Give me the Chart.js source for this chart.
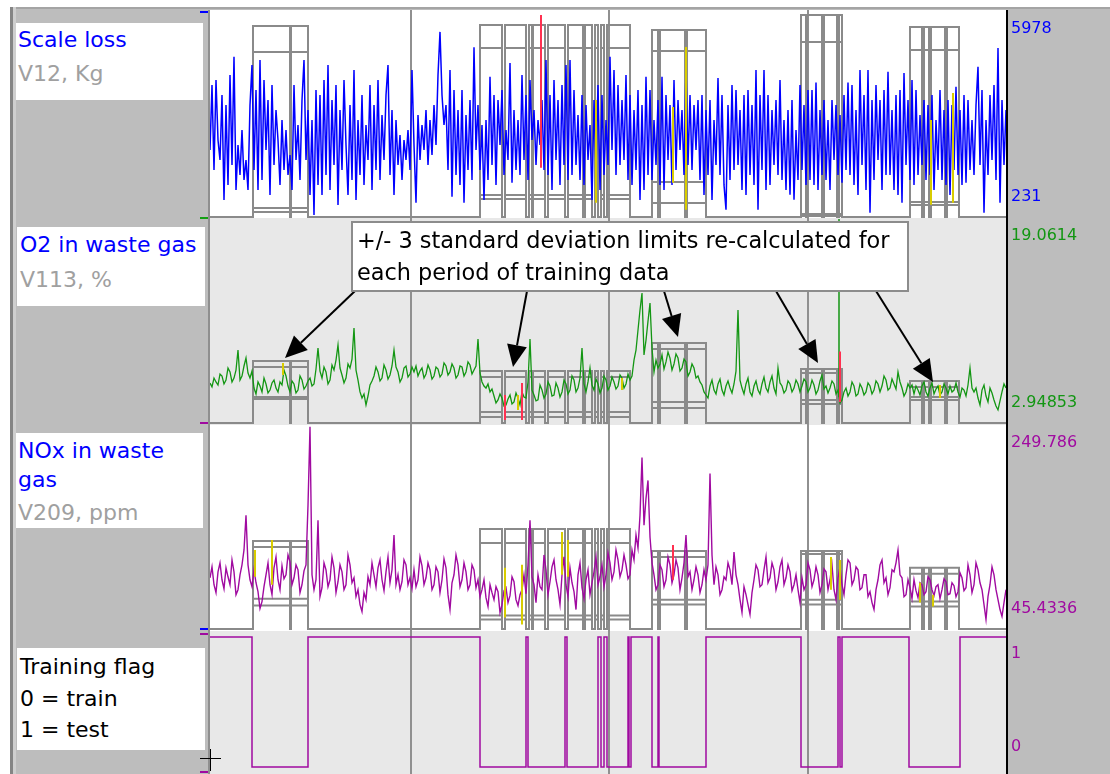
<!DOCTYPE html>
<html>
<head>
<meta charset="utf-8">
<script src="https://cdn.jsdelivr.net/npm/chart.js@4.4.1/dist/chart.umd.min.js"></script>
<style>
  html, body { margin: 0; padding: 0; background: #fff; }
  #page { position: relative; width: 1110px; height: 774px; overflow: hidden; font-family: "DejaVu Sans", sans-serif; }
  #frame { position: absolute; left: 10px; top: 7px; width: 1100px; height: 767px; background: #bdbdbd; border-top: 2px solid #a4a4a4; box-sizing: border-box; }
  .edge { position: absolute; top: 7px; width: 3px; height: 767px; }
  .tag { position: absolute; background: #fff; }
  .txt { position: absolute; font-size: 22px; line-height: 32px; white-space: nowrap; }
  .blue { color: #0000ff; }
  .grey { color: #a0a0a0; }
  .black { color: #000; }
  .strip { position: absolute; left: 208px; width: 902px; }
  .strip canvas { display: block; }
  .mark { position: absolute; left: 200px; width: 8px; height: 2px; }
</style>
</head>
<body>
<div id="page">
  <div id="frame"></div>
  <div class="edge" style="left:10px;background:#858585"></div>
  <div class="edge" style="left:13px;background:#cfcfcf"></div>

  <div class="tag" style="left:16px;top:23px;width:187px;height:77px"></div>
  <div class="txt blue" style="left:18px;top:24px">Scale loss</div>
  <div class="txt grey" style="left:18px;top:58px">V12, Kg</div>

  <div class="tag" style="left:17px;top:227px;width:188px;height:79px"></div>
  <div class="txt blue" style="left:20px;top:229px">O2 in waste gas</div>
  <div class="txt grey" style="left:20px;top:264px">V113, %</div>

  <div class="tag" style="left:16px;top:433px;width:187px;height:95px"></div>
  <div class="txt blue" style="left:18px;top:435px">NOx in waste</div>
  <div class="txt blue" style="left:18px;top:464px">gas</div>
  <div class="txt grey" style="left:18px;top:497px">V209, ppm</div>

  <div class="tag" style="left:17px;top:648px;width:188px;height:102px"></div>
  <div class="txt black" style="left:20px;top:651px">Training flag</div>
  <div class="txt black" style="left:20px;top:683px">0 = train</div>
  <div class="txt black" style="left:20px;top:714px">1 = test</div>

  <div class="mark" style="top:11px;background:#0000ff"></div>
  <div class="mark" style="top:217px;background:#13a013"></div>
  <div class="mark" style="top:422px;background:#a00aa0"></div>
  <div class="mark" style="top:628px;background:#0000ff"></div>
  <div class="mark" style="top:633px;background:#a00aa0"></div>
  <div class="mark" style="top:771px;background:#a00aa0"></div>

  <div class="strip" style="top:10px"><canvas id="scaleChart" width="902" height="208"></canvas></div>
  <div class="strip" style="top:218px"><canvas id="o2Chart" width="902" height="207"></canvas></div>
  <div class="strip" style="top:425px"><canvas id="noxChart" width="902" height="206"></canvas></div>
  <div class="strip" style="top:631px"><canvas id="flagChart" width="902" height="143"></canvas></div>

  <div style="position:absolute;left:200px;top:758px;width:21px;height:1px;background:#000"></div>
  <div style="position:absolute;left:210px;top:749px;width:1px;height:22px;background:#000"></div>
</div>

<script>
(() => {
  "use strict";

  // time axis: one sample per plotted pixel column
  const SAMPLE_MAX = 796;
  const GRID_SAMPLES = [201, 399, 598];

  // every 2nd sample is plotted
  const SERIES_STEP = 2;

  // Scale loss, kg
  const SCALE_LOSS = [
    2110, 3930, 1550, 4070, 2390, 1830, 3650, 710, 3370, 1130, 4210, 1690, 4720, 990, 2250, 1410, 2670, 1270, 1830, 990,
    3370, 4490, 1550, 3790, 990, 4630, 1270, 4070, 2110, 3510, 850, 3930, 1690, 3230, 2390, 1130, 2950, 1550, 2670, 1410,
    1970, 990, 3930, 1830, 2810, 1270, 3510, 4630, 1830, 3230, 850, 2950, 290, 3790, 1130, 3650, 850, 4070, 1410, 4490,
    990, 3510, 1690, 3930, 570, 3230, 1550, 4070, 2250, 850, 3370, 1270, 4350, 710, 2950, 1410, 3650, 1130, 2810, 1830,
    3930, 990, 3370, 1550, 4070, 1270, 3090, 1830, 3650, 4490, 1410, 3230, 850, 2950, 1690, 2530, 1270, 2390, 1830, 2670,
    1550, 4350, 2250, 630, 3090, 1830, 2810, 2110, 3230, 1690, 2950, 1970, 3370, 2250, 4210, 5420, 3650, 2810, 3370, 1550,
    4350, 800, 3790, 1410, 3230, 1130, 3790, 630, 3090, 1550, 3510, 1270, 4990, 2110, 3370, 1550, 2810, 710, 2950, 1270,
    4160, 1690, 3650, 1130, 3510, 2250, 3790, 1410, 2670, 1830, 4550, 1190, 3230, 1550, 2950, 1410, 4210, 1830, 3650, 1270,
    4070, 2390, 3230, 1690, 2950, 2250, 3510, 1550, 4630, 1410, 3650, 990, 4070, 1830, 3510, 1130, 3930, 1690, 4490, 1270,
    4630, 1410, 3790, 1690, 3090, 1270, 3650, 1130, 3370, 1830, 2810, 710, 3510, 1550, 3930, 990, 3650, 1410, 2950, 1690,
    4720, 2110, 4350, 1410, 3930, 1690, 3510, 1830, 4210, 1270, 3650, 1130, 3230, 1550, 3790, 710, 3370, 990, 4160, 1410,
    3790, 1270, 2950, 1690, 3510, 1130, 4160, 990, 3650, 1830, 3370, 1130, 4070, 1550, 3510, 2110, 3230, 1410, 4410, 1690,
    3650, 1550, 3370, 2110, 3510, 1270, 3650, 850, 3230, 1410, 3510, 710, 2950, 1690, 4130, 1410, 3650, 1130, 433, 3370,
    1270, 3930, 1550, 3790, 1690, 3230, 990, 3650, 850, 3790, 1410, 3370, 1130, 4350, 433, 3650, 1550, 4350, 990, 3650,
    1130, 3230, 1690, 3510, 1410, 4070, 1270, 2950, 990, 3230, 853, 3510, 713, 2670, 1270, 3930, 1550, 3370, 1130, 3790,
    1270, 3790, 1130, 4000, 990, 3230, 1410, 3510, 1270, 2950, 990, 3510, 1830, 3370, 1410, 3090, 1190, 3650, 1550, 4000,
    1410, 3930, 1130, 3230, 850, 4350, 1690, 3650, 990, 4350, 350, 3510, 1270, 3930, 1830, 3510, 990, 3790, 1410, 4300,
    1410, 3230, 990, 3650, 850, 3790, 630, 4270, 1690, 3510, 1270, 4070, 1130, 3790, 1410, 3090, 1690, 3510, 1270, 3370,
    1410, 3650, 990, 2950, 1550, 3790, 1270, 3230, 1130, 3510, 850, 3370, 1550, 3880, 1410, 3230, 1130, 3650, 1190, 3510,
    1550, 2950, 1410, 3370, 4440, 1690, 3790, 350, 2950, 1410, 3650, 1830, 3930, 1270, 4970, 630, 3510, 1690, 3230
  ];

  // O2 in waste gas, %
  const O2_PCT = [
    6.11, 5.80, 6.50, 6.19, 5.95, 6.82, 6.66, 6.03, 6.34, 7.29, 6.98, 6.19, 6.50, 7.13, 8.71, 6.34, 6.66, 7.45, 8.08, 6.90, 6.50,
    7.05,
    5.71, 5.24, 6.19, 5.87, 5.40, 6.50, 6.03, 5.32, 5.55, 6.11, 6.34, 5.71, 5.40, 6.19, 5.95, 7.13, 6.66, 5.87, 5.40, 6.27,
    6.03, 5.32, 5.55, 6.66, 6.34, 5.63, 5.87,
    6.27,
    6.50, 5.87, 6.03, 7.21, 8.87, 7.05, 6.50, 7.37, 6.98, 6.03, 6.34, 7.53, 7.13, 7.92, 9.11, 7.29, 6.74, 6.11, 6.50, 7.61,
    7.29, 8.00, 10.45, 7.13, 6.34, 5.40, 4.92, 5.24, 4.37, 5.08, 5.95, 6.27, 6.66, 7.37, 6.98, 6.27, 6.50, 7.53, 7.13, 6.42,
    6.74, 7.45, 8.71, 7.37, 6.98, 6.19, 6.50, 7.29, 7.45, 6.58, 6.82,
    7.37,
    6.98, 7.45, 6.66, 7.05, 7.29, 6.50, 6.82, 7.53, 7.13, 6.42, 6.66, 7.37, 7.21, 6.58, 6.82, 7.69, 7.45, 6.74, 6.98, 7.61,
    7.29, 6.50, 6.74, 7.45, 7.37, 6.66, 6.98, 7.77, 7.53, 6.82, 7.13, 7.45, 9.58,
    6.90,
    6.19, 5.87, 5.71, 6.03, 5.40, 5.63, 5.08, 4.53, 4.77, 5.24, 4.92, 4.29, 4.37, 4.84, 5.16, 4.45, 4.61, 5.32, 4.92, 4.37,
    5.40, 5.00, 4.92, 6.19, 9.58, 5.55, 5.16, 4.69, 4.77, 5.95, 5.55, 4.92, 5.24, 6.19, 5.87, 5.08, 5.16, 6.11, 5.71, 5.00,
    5.40, 6.34, 6.03, 5.24, 5.55, 6.66, 6.34, 5.40, 5.71, 6.50, 8.87, 6.03, 5.40, 6.19, 7.29, 5.95, 5.55, 6.42, 6.03, 5.32,
    5.71, 6.66, 6.34, 5.55, 5.87, 6.58, 6.19, 5.63, 5.87, 6.74, 6.50, 5.71, 6.03, 6.82, 6.34,
    6.66,
    7.92, 8.71, 10.29, 11.87, 13.22, 8.32, 9.50, 11.00, 12.43, 8.87, 6.98, 7.92, 7.29, 7.61, 8.32, 7.21, 7.77, 8.56, 8.08, 7.13,
    7.61, 8.40, 8.08, 7.05, 7.29, 8.00, 7.77, 6.66, 6.98, 7.61, 7.29, 6.50, 6.66, 6.19, 5.95, 5.40, 5.16,
    4.92,
    5.87, 6.34, 5.55, 5.24, 6.03, 6.42, 5.55, 5.16, 5.87, 6.27, 5.71, 5.32, 6.03, 7.05, 11.87, 6.34, 5.71, 5.24, 6.03, 6.50,
    5.40, 5.08, 5.87, 6.27, 5.55, 5.24, 6.03, 6.58, 5.71, 5.40, 6.19, 6.66, 5.71, 5.24, 7.29, 6.11, 5.87, 5.32, 5.55, 6.27,
    6.03, 5.40, 5.71, 6.34, 6.03,
    5.40,
    5.87, 6.42, 6.19, 5.40, 5.71, 6.34, 5.95, 5.24, 5.55, 6.27, 6.74, 5.63, 5.87, 5.32, 5.71, 6.27, 6.03, 5.24, 5.55, 4.53,
    4.77, 5.40, 5.71, 5.08, 5.40, 6.19, 5.87, 5.08, 5.24, 6.03, 5.71, 5.16, 5.40, 6.11, 5.87, 5.24, 5.55, 6.27, 6.03, 5.40,
    5.87, 6.66, 6.34, 5.55, 5.71, 6.42, 6.03, 5.63, 6.98, 6.19, 5.71, 5.08, 5.40,
    6.03,
    5.71, 5.95, 5.24, 5.87, 5.55, 5.16, 5.87, 6.19, 5.40, 5.08, 5.71, 6.11, 5.24, 5.63, 5.87, 5.16, 5.40, 6.03, 5.71, 5.24,
    5.87, 5.40, 5.55, 6.11, 5.40, 5.00, 5.71, 5.55, 5.08, 5.95, 7.29, 5.71, 5.40, 5.71, 4.92, 4.37, 5.55, 5.95, 5.08, 4.61,
    5.71, 5.32, 4.77, 4.29, 3.98, 4.69, 5.40, 6.03, 5.71
  ];

  // NOx in waste gas, ppm
  const NOX_PPM = [
    97, 108, 90, 82, 103, 112, 95, 86, 107, 98, 90, 115, 103, 80, 85, 100, 110, 125, 160, 110, 95,
    88,
    105, 92, 83, 66, 73, 88, 100, 112, 90, 80, 107, 118, 95, 85, 109, 96, 100, 120, 113, 90, 97, 110, 105, 82, 90, 104, 110,
    170,
    249, 100, 85, 95, 155, 78, 87, 112, 105, 88, 95, 118, 107, 82, 93, 110, 103, 85, 90, 120, 110, 92, 97, 78, 85, 70,
    63, 82, 75, 98, 90, 112, 100, 88, 107, 115, 95, 84, 103, 118, 92, 105, 140, 90, 100, 85, 93, 115, 110, 90, 97,
    86,
    105, 88, 95, 118, 109, 90, 97, 112, 105, 85, 90, 108, 103, 82, 95, 116, 107, 80, 65, 92, 100, 120, 110, 88, 95, 112,
    103, 85, 90, 110, 105, 87, 95,
    78,
    85, 95, 77, 68, 90, 82, 75, 88, 83, 62, 70, 84, 87, 72, 79, 98, 93, 75, 69, 80, 85, 100, 81, 110, 155, 98, 90, 72,
    100, 88, 85, 120, 105, 80, 93, 108, 115, 95, 85, 70, 100, 118, 90, 78, 107, 92, 83, 65, 100, 112, 87, 76, 95, 105,
    80, 92, 103, 118, 90, 98, 110, 88, 100, 122, 112, 95, 103, 125, 115, 98, 105, 120, 110, 96, 100,
    125,
    115, 140, 127, 160, 218, 150, 177, 195, 138, 112, 100, 85, 90, 110, 105, 88, 95, 118, 110, 92, 100, 115, 107, 85,
    97, 112, 140, 98, 103, 85, 95, 108, 100, 82, 90, 105, 95,
    110,
    202, 120, 90, 108, 100, 80, 85, 98, 95, 112, 105, 90, 123, 100, 90, 75, 62, 88, 80, 70, 60, 82, 95, 110, 105, 88,
    90, 105, 118, 92, 97, 112, 105, 85, 93, 108, 115, 90, 97, 110, 103, 84, 90, 100, 85,
    72,
    97, 85, 90, 112, 105, 88, 95, 108, 100, 82, 90, 106, 103, 85, 95, 110, 85, 75, 97, 108, 90, 80, 100, 115, 112, 90,
    95, 108, 105, 85, 87, 100, 100, 78, 83, 72, 65, 85, 95, 110, 115, 92, 97, 80, 87, 105, 103, 112, 125, 100, 97, 78, 80,
    95,
    87, 76, 95, 84, 77, 92, 90, 80, 83, 98, 95, 85, 79, 88, 90, 76, 85, 96, 93, 80, 81, 92, 89, 78, 83, 102, 97, 84,
    87, 110, 100, 82, 90, 112, 105, 92, 85, 70, 55, 78, 90, 108, 100, 85, 75, 65, 58, 72, 85
  ];

  // training flag: value holds from that sample on (0 = train, 1 = test)
  const FLAG_SAMPLE = [0, 42, 98, 270, 316, 318, 355, 357, 388, 391, 394, 397, 418, 419, 421,
    442, 448, 449, 496, 591, 628, 630, 632, 699, 750, 796];
  const FLAG_VALUE = [1, 0, 1, 0, 1, 0, 1, 0, 1, 0, 1, 0, 1, 0, 1,
    0, 1, 0, 1, 0, 1, 0, 1, 0, 1, 1];

  // training sub-periods and the block of limits each one uses
  const TRAIN_PERIODS = [[43, 80], [81, 98],
    [270, 292], [295, 316], [319, 322], [323, 335], [338, 355], [358, 373], [375, 382],
    [385, 388], [391, 394], [397, 420],
    [442, 448], [450, 475], [477, 496],
    [591, 596], [597, 612], [614, 627], [629, 632],
    [700, 712], [714, 719], [721, 735], [737, 749]];
  const PERIOD_BLOCK = [0, 0, 1, 1, 1, 1, 1, 1, 1, 1, 1, 1, 2, 2, 2, 3, 3, 3, 3, 4, 4, 4, 4];

  const SCALE_RANGE = [231, 5978];
  const SCALE_LIM_TOP = [5585, 5613, 5473, 5894, 5557];
  const SCALE_LIM_UPPER = [4857, 4969, 4885, 5137, 4913];
  const SCALE_LIM_LOWER = [483, 848, 1212, 315, 651];
  const SCALE_LIM_BOTTOM = [371, 736, 623, 259, 567];

  const O2_RANGE = [2.94853, 19.0614];
  const O2_LIM_TOP = [7.85, 7.06, 9.27, 7.21, 6.27];
  const O2_LIM_UPPER = [7.37, 6.58, 8.79, 6.90, 5.79];
  const O2_LIM_LOWER = [5.00, 3.82, 4.61, 4.77, 5.00];
  const O2_LIM_BOTTOM = [4.84, 3.42, 4.13, 4.45, 4.77];

  const NOX_RANGE = [45.4336, 249.786];
  const NOX_LIM_TOP = [134, 146, 124, 124, 107];
  const NOX_LIM_UPPER = [128, 132, 118, 121, 101];
  const NOX_LIM_LOWER = [76, 59, 75, 75, 73];
  const NOX_LIM_BOTTOM = [69, 55, 70, 70, 68];

  const FLAG_RANGE = [0, 1];

  // flagged excursions: [sample, from, to]
  const SCALE_RED = [[331, 1609, 5893]];
  const SCALE_YELLOW = [[386, 3513, 629], [463, 3317, 1189], [476, 4997, 433], [721, 2953, 573], [743, 3709, 629]];
  const O2_PEAK = [[629, 5.0, 19.06]];
  const O2_RED = [[630, 4.6, 8.6], [295, 5.16, 3.19], [312, 6.11, 3.19]];
  const O2_YELLOW = [[73, 7.69, 6.74], [308, 5.16, 3.98], [412, 6.50, 5.55], [730, 5.95, 4.92]];
  const NOX_RED = [[463, 130, 95]];
  const NOX_YELLOW = [[45, 125, 98], [62, 135, 90], [295, 107, 57], [312, 110, 50], [352, 143, 100],
    [358, 135, 98], [621, 118, 85], [630, 115, 75], [710, 92, 72], [723, 80, 68]];

  const CALLOUT_LINES = ["+/- 3 standard deviation limits re-calculated for", "each period of training data"];
  // arrow: [tail offset along box bottom, tip sample, tip O2 value]
  const CALLOUT_ARROWS = [[3, 75, 8.08], [175, 303, 7.37], [312, 468, 9.74], [424, 608, 7.69], [524, 723, 6.19]];

  const BLUE = "#0000ff";
  const GREEN = "#139613";
  const PURPLE = "#a00aa0";
  const LIMIT_GREY = "#8a8a8a";
  const FONT = "'DejaVu Sans', sans-serif";

  function seriesPoints(values) {
    return values.map((v, i) => ({ x: i * SERIES_STEP, y: v }));
  }

  function segmentPoints(segments) {
    const pts = [];
    segments.forEach(([s, a, b]) => pts.push({ x: s, y: a }, { x: s, y: b }, { x: s, y: null }));
    return pts;
  }

  function limitPoints(base, values) {
    const pts = [{ x: 0, y: base }];
    TRAIN_PERIODS.forEach(([a, b], i) => {
      const v = values[PERIOD_BLOCK[i]];
      pts.push({ x: a, y: base }, { x: a, y: v }, { x: b, y: v }, { x: b, y: base });
    });
    pts.push({ x: SAMPLE_MAX, y: base });
    return pts;
  }

  function line(data, color, width) {
    return { data, borderColor: color, borderWidth: width, pointRadius: 0, tension: 0, fill: false, spanGaps: false };
  }

  function limitSets(base, lists) {
    return lists.map((l) => line(limitPoints(base, l), LIMIT_GREY, 2));
  }

  const stripFrame = {
    id: "stripFrame",
    beforeDraw(chart, args, opts) {
      const { ctx, chartArea: a } = chart;
      ctx.save();
      ctx.fillStyle = opts.fill;
      ctx.fillRect(a.left, a.top, a.right - a.left, a.bottom - a.top);
      ctx.restore();
    },
    afterDraw(chart, args, opts) {
      const { ctx, chartArea: a, scales } = chart;
      ctx.save();
      ctx.fillStyle = "#8f8f8f";
      ctx.fillRect(a.left - 2, a.top, 2, a.bottom - a.top);
      ctx.fillStyle = "#000";
      ctx.fillRect(a.right, a.top, 2, a.bottom - a.top);
      const [lo, hi] = opts.range;
      ctx.font = "16px " + FONT;
      ctx.fillStyle = opts.labelColor;
      ctx.textBaseline = "middle";
      ctx.textAlign = "left";
      ctx.fillText(String(hi), a.right + 5, scales.y.getPixelForValue(hi) + 17);
      ctx.fillText(String(lo), a.right + 5, scales.y.getPixelForValue(lo) - 20);
      ctx.restore();
    }
  };

  const callout = {
    id: "callout",
    afterDraw(chart, args, opts) {
      if (!opts || !opts.box) return;
      const { ctx, chartArea: a, scales } = chart;
      const [dx, dy, w, h] = opts.box;
      const bx = a.left + dx;
      const by = a.top + dy;
      ctx.save();
      ctx.strokeStyle = "#000";
      ctx.fillStyle = "#000";
      ctx.lineWidth = 2;
      CALLOUT_ARROWS.forEach(([tail, sample, value]) => {
        const x0 = bx + tail;
        const y0 = by + h;
        const x1 = scales.x.getPixelForValue(sample);
        const y1 = scales.y.getPixelForValue(value);
        const ang = Math.atan2(y1 - y0, x1 - x0);
        const len = 22;
        const half = 10;
        const hx = x1 - len * Math.cos(ang);
        const hy = y1 - len * Math.sin(ang);
        ctx.beginPath();
        ctx.moveTo(x0, y0);
        ctx.lineTo(hx, hy);
        ctx.stroke();
        ctx.beginPath();
        ctx.moveTo(x1, y1);
        ctx.lineTo(hx + half * Math.sin(ang), hy - half * Math.cos(ang));
        ctx.lineTo(hx - half * Math.sin(ang), hy + half * Math.cos(ang));
        ctx.closePath();
        ctx.fill();
      });
      ctx.fillStyle = "#fff";
      ctx.fillRect(bx, by, w, h);
      ctx.strokeStyle = "#8c8c8c";
      ctx.lineWidth = 2;
      ctx.strokeRect(bx, by, w, h);
      ctx.fillStyle = "#000";
      ctx.font = "22.4px " + FONT;
      ctx.textBaseline = "alphabetic";
      CALLOUT_LINES.forEach((t, i) => ctx.fillText(t, bx + 5, by + 26 + i * 32));
      ctx.restore();
    }
  };

  function makeStrip(id, cfg) {
    const canvas = document.getElementById(id);
    const [lo, hi] = cfg.range;
    const perPx = (hi - lo) / (canvas.height - cfg.padTop - cfg.padBottom);
    new Chart(canvas, {
      type: "line",
      data: { datasets: cfg.datasets },
      options: {
        responsive: false,
        animation: false,
        devicePixelRatio: 1,
        events: [],
        layout: { padding: { left: 2, right: 104, top: 0, bottom: 0 } },
        scales: {
          x: {
            type: "linear",
            min: 0,
            max: SAMPLE_MAX,
            afterBuildTicks: (s) => { s.ticks = GRID_SAMPLES.map((v) => ({ value: v })); },
            afterFit: (s) => { s.height = 0; },
            ticks: { display: false },
            grid: { color: "#909090", lineWidth: 2, drawTicks: false },
            border: { display: false }
          },
          y: {
            type: "linear",
            display: false,
            min: lo - cfg.padBottom * perPx,
            max: hi + cfg.padTop * perPx
          }
        },
        plugins: {
          legend: { display: false },
          tooltip: { enabled: false },
          stripFrame: { fill: cfg.fill, range: cfg.range, labelColor: cfg.labelColor },
          callout: cfg.callout || {}
        }
      },
      plugins: [stripFrame, callout]
    });
  }

  makeStrip("scaleChart", {
    range: SCALE_RANGE, padTop: 2, padBottom: 1, fill: "#ffffff", labelColor: BLUE,
    datasets: [
      line(segmentPoints(SCALE_RED), "#ff3050", 2),
      line(segmentPoints(SCALE_YELLOW), "#d8cc00", 2),
      line(seriesPoints(SCALE_LOSS), BLUE, 1.5),
      ...limitSets(SCALE_RANGE[0], [SCALE_LIM_TOP, SCALE_LIM_UPPER, SCALE_LIM_LOWER, SCALE_LIM_BOTTOM])
    ]
  });

  makeStrip("o2Chart", {
    range: O2_RANGE, padTop: 1, padBottom: 2, fill: "#e8e8e8", labelColor: GREEN,
    callout: { box: [142, 4, 556, 69] },
    datasets: [
      line(segmentPoints(O2_RED), "#ff3050", 2),
      line(segmentPoints(O2_YELLOW), "#d8cc00", 2),
      line(segmentPoints(O2_PEAK), GREEN, 1.5),
      line(seriesPoints(O2_PCT), GREEN, 1.3),
      ...limitSets(O2_RANGE[0], [O2_LIM_TOP, O2_LIM_UPPER, O2_LIM_LOWER, O2_LIM_BOTTOM])
    ]
  });

  makeStrip("noxChart", {
    range: NOX_RANGE, padTop: 1, padBottom: 2, fill: "#ffffff", labelColor: PURPLE,
    datasets: [
      line(segmentPoints(NOX_RED), "#ff3050", 2),
      line(segmentPoints(NOX_YELLOW), "#d8cc00", 2),
      line(seriesPoints(NOX_PPM), PURPLE, 1.4),
      ...limitSets(NOX_RANGE[0], [NOX_LIM_TOP, NOX_LIM_UPPER, NOX_LIM_LOWER, NOX_LIM_BOTTOM])
    ]
  });

  makeStrip("flagChart", {
    range: FLAG_RANGE, padTop: 6, padBottom: 7, fill: "#e8e8e8", labelColor: PURPLE,
    datasets: [
      Object.assign(line(FLAG_SAMPLE.map((s, i) => ({ x: s, y: FLAG_VALUE[i] })), PURPLE, 1.5), { stepped: true })
    ]
  });
})();
</script>
</body>
</html>
